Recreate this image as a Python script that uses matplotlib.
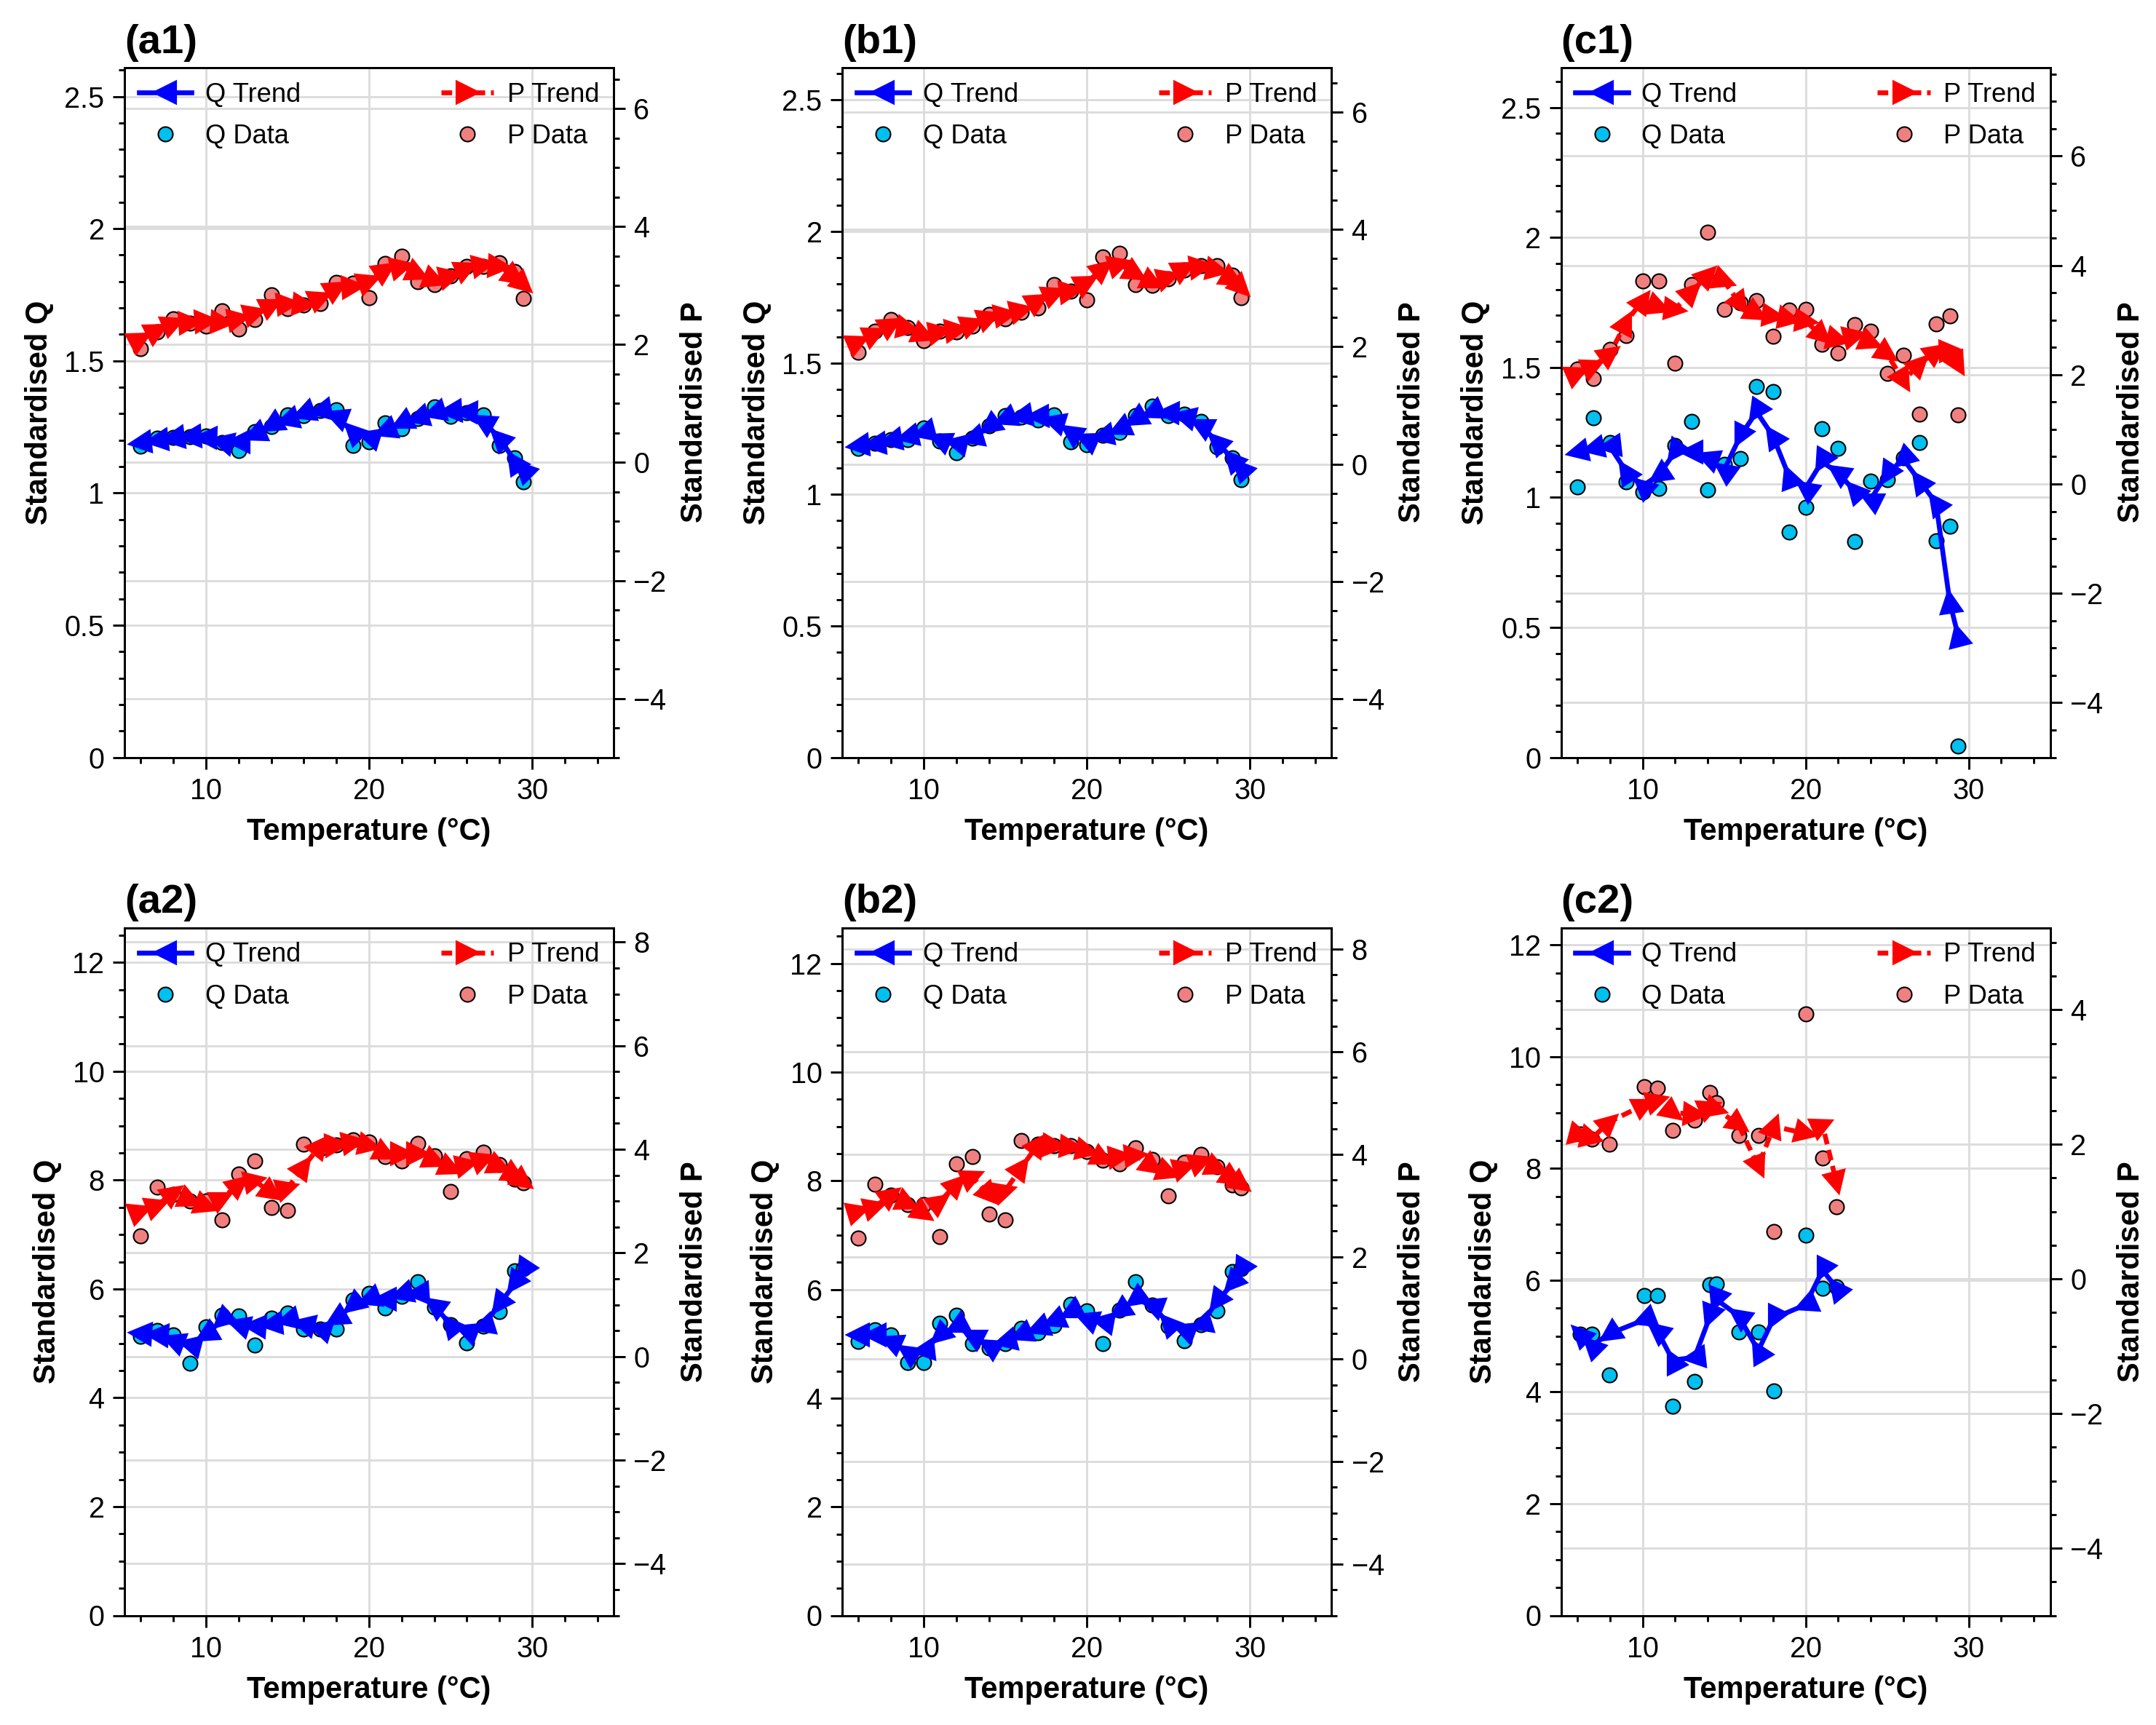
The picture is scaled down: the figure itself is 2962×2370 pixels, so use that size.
import numpy as np
import matplotlib
matplotlib.use('Agg')
import matplotlib.pyplot as plt
from matplotlib.lines import Line2D
from matplotlib.markers import MarkerStyle
from matplotlib.transforms import Affine2D
from matplotlib.ticker import MultipleLocator, FuncFormatter

plt.rcParams['font.family'] = ['Liberation Sans', 'DejaVu Sans']

# temperatures (deg C)
temp = np.array([6, 7, 8, 9, 10, 11, 12, 13, 14, 15, 16, 17, 18, 19, 20,
                 21, 22, 23, 24, 25, 26, 27, 28, 28.95, 29.45])
temp_c1 = np.array([6, 7, 8, 9, 10, 11, 12, 13, 14, 15, 16, 17, 18, 19, 20,
                    21, 22, 23, 24, 25, 26, 27, 28, 28.85, 29.35])
temp_c2 = np.array([6.2, 6.9, 7.95, 10.1, 10.9, 11.85, 13.2, 14.15, 14.55,
                    15.9, 17.1, 18.05, 20.0, 21.05, 21.9])

# (a1)
q_a1 = [1.176, 1.208, 1.210, 1.212, 1.217, 1.190, 1.162, 1.231, 1.252, 1.295, 1.293, 1.313, 1.315,
        1.180, 1.194, 1.265, 1.244, 1.281, 1.327, 1.290, 1.304, 1.295, 1.180, 1.134, 1.043]
qt_a1 = [1.191, 1.199, 1.208, 1.212, 1.210, 1.194, 1.194, 1.222, 1.256, 1.277, 1.300, 1.313, 1.290,
         1.231, 1.212, 1.235, 1.265, 1.286, 1.304, 1.309, 1.307, 1.272, 1.208, 1.120, 1.088]
p_a1 = [1.93, 2.22, 2.44, 2.36, 2.31, 2.57, 2.27, 2.43, 2.85, 2.61, 2.67, 2.70, 3.05,
        3.04, 2.80, 3.38, 3.50, 3.07, 3.02, 3.16, 3.32, 3.33, 3.39, 3.24, 2.78]
pt_a1 = [2.09, 2.24, 2.36, 2.38, 2.40, 2.38, 2.44, 2.53, 2.67, 2.70, 2.67, 2.79, 2.96,
         2.98, 3.08, 3.26, 3.33, 3.20, 3.09, 3.16, 3.29, 3.35, 3.33, 3.14, 3.02]

# (b1)
q_b1 = [1.174, 1.194, 1.208, 1.208, 1.252, 1.203, 1.159, 1.214, 1.261, 1.300, 1.294, 1.282, 1.303,
        1.201, 1.189, 1.226, 1.236, 1.300, 1.337, 1.300, 1.305, 1.277, 1.180, 1.140, 1.057]
qt_b1 = [1.185, 1.192, 1.205, 1.219, 1.236, 1.208, 1.194, 1.213, 1.259, 1.286, 1.296, 1.298, 1.277,
         1.236, 1.208, 1.222, 1.251, 1.286, 1.314, 1.312, 1.296, 1.263, 1.199, 1.134, 1.100]
p_b1 = [1.90, 2.26, 2.46, 2.33, 2.10, 2.26, 2.25, 2.35, 2.55, 2.48, 2.59, 2.66, 3.06,
        2.95, 2.80, 3.53, 3.59, 3.06, 3.04, 3.16, 3.31, 3.38, 3.38, 3.22, 2.83]
pt_b1 = [2.08, 2.21, 2.37, 2.31, 2.19, 2.25, 2.29, 2.39, 2.50, 2.55, 2.62, 2.79, 2.91,
         2.95, 3.10, 3.33, 3.41, 3.24, 3.10, 3.18, 3.33, 3.37, 3.31, 3.15, 3.01]

# (c1)
q_c1 = [1.039, 1.306, 1.212, 1.061, 1.022, 1.036, 1.200, 1.292, 1.028, 1.128, 1.150, 1.427, 1.408,
        0.868, 0.962, 1.264, 1.189, 0.829, 1.064, 1.067, 1.153, 1.212, 0.834, 0.890, 0.043]
qt_c1 = [1.175, 1.189, 1.196, 1.100, 1.044, 1.086, 1.175, 1.175, 1.151, 1.105, 1.236, 1.329, 1.236,
         1.079, 1.035, 1.137, 1.095, 1.025, 0.993, 1.091, 1.147, 1.063, 0.979, 0.597, 0.470]
p_c1 = [2.11, 1.93, 2.46, 2.72, 3.71, 3.72, 2.21, 3.65, 4.60, 3.20, 3.31, 3.35, 2.70,
        3.18, 3.20, 2.55, 2.40, 2.92, 2.79, 2.02, 2.35, 1.28, 2.93, 3.07, 1.27]
pt_c1 = [2.02, 2.16, 2.38, 2.96, 3.36, 3.24, 3.20, 3.51, 3.82, 3.71, 3.29, 3.12, 3.08,
         3.02, 2.98, 2.71, 2.64, 2.71, 2.58, 2.38, 1.89, 2.20, 2.42, 2.43, 2.18]

# (a2)
q_a2 = [5.13, 5.23, 5.16, 4.64, 5.30, 5.52, 5.51, 4.97, 5.46, 5.56, 5.27, 5.26, 5.27,
        5.80, 5.92, 5.65, 5.86, 6.13, 5.67, 5.34, 5.01, 5.32, 5.59, 6.33, 6.37]
qt_a2 = [5.18, 5.16, 5.05, 4.98, 5.16, 5.43, 5.34, 5.32, 5.36, 5.43, 5.36, 5.27, 5.45,
         5.70, 5.81, 5.81, 5.90, 5.92, 5.70, 5.34, 5.23, 5.32, 5.72, 6.10, 6.34]
p_a2 = [2.33, 3.27, 3.13, 3.00, 3.00, 2.64, 3.53, 3.78, 2.88, 2.82, 4.10, 4.02, 4.09,
        4.19, 4.14, 3.86, 3.78, 4.12, 3.88, 3.19, 3.82, 3.95, 3.70, 3.42, 3.35]
pt_a2 = [2.81, 2.92, 3.16, 3.02, 2.90, 3.06, 3.32, 3.39, 3.16, 3.25, 3.67, 4.07, 4.09,
         4.14, 4.07, 3.91, 3.91, 3.91, 3.77, 3.63, 3.70, 3.81, 3.67, 3.49, 3.38]

# (b2)
q_b2 = [5.04, 5.26, 5.17, 4.65, 4.65, 5.38, 5.52, 5.00, 4.92, 5.00, 5.29, 5.21, 5.34,
        5.73, 5.61, 5.00, 5.62, 6.14, 5.71, 5.33, 5.06, 5.35, 5.61, 6.33, 6.38]
qt_b2 = [5.17, 5.17, 5.04, 4.84, 4.88, 5.15, 5.31, 5.15, 4.97, 5.04, 5.17, 5.29, 5.42,
         5.58, 5.46, 5.40, 5.60, 5.82, 5.71, 5.38, 5.26, 5.35, 5.78, 6.11, 6.36]
p_b2 = [2.37, 3.41, 3.20, 3.02, 3.02, 2.39, 3.81, 3.95, 2.83, 2.72, 4.27, 4.19, 4.16,
        4.17, 4.06, 3.88, 3.81, 4.12, 3.89, 3.19, 3.84, 4.00, 3.75, 3.40, 3.34]
pt_b2 = [2.89, 2.98, 3.20, 3.05, 2.84, 3.08, 3.41, 3.55, 3.20, 3.29, 3.74, 4.19, 4.17,
         4.14, 4.07, 3.91, 3.95, 3.98, 3.76, 3.64, 3.74, 3.86, 3.72, 3.53, 3.41]

# (c2)
q_c2 = [5.04, 5.04, 4.30, 5.73, 5.73, 3.75, 4.19, 5.92, 5.94, 5.08, 5.07, 4.02, 6.81, 5.85, 5.88]
qt_c2 = [5.04, 4.83, 5.04, 5.29, 5.10, 4.57, 4.62, 5.36, 5.65, 5.36, 4.74, 5.32, 5.56, 6.18, 5.86]
p_c2 = [2.15, 2.08, 2.00, 2.86, 2.84, 2.21, 2.36, 2.77, 2.62, 2.13, 2.13, 0.71, 3.94, 1.80, 1.07]
pt_c2 = [2.13, 2.09, 2.33, 2.59, 2.65, 2.47, 2.45, 2.55, 2.52, 2.29, 1.67, 2.27, 2.16, 2.28, 1.43]

Q_COL = '#00C0F0'
P_COL = '#F08080'
GRID = '#dcdcdc'
LW = 1.6
MS = 6.6
P_DASH = (0, (2.2, 1.2))

fmt = FuncFormatter(lambda v, pos: f'{v:g}'.replace('-', '\u2212'))


def trend(ax, x, y, color, ls, base):
    # line with triangle markers turned along the incoming segment
    ax.plot(x, y, color=color, lw=LW, ls=ls, zorder=3)
    pts = ax.transData.transform(np.column_stack([x, y]))
    d = np.diff(pts, axis=0)
    ang = np.degrees(np.arctan2(d[:, 1], d[:, 0]))
    ang = np.concatenate([[ang[0]], ang])
    for xi, yi, a in zip(x, y, ang):
        m = MarkerStyle(base, transform=Affine2D().rotate_deg(a))
        ax.plot([xi], [yi], ls='none', marker=m, ms=MS, color=color,
                mec=color, zorder=3)


def panel(rect, title, x, q, qt, p, pt, qlim, plim, qmaj, qmin):
    ax = fig.add_axes(rect)
    ax2 = ax.twinx()
    ax.set_xlim(5, 35)
    ax.set_ylim(*qlim)
    ax2.set_ylim(*plim)

    # grid lines of both y axes, drawn under all data
    ax.grid(False)
    ax2.grid(False)
    for xv in np.arange(10, 31, 10):
        ax.axvline(xv, color=GRID, lw=0.7, zorder=0.5)
    for qv in np.arange(0, qlim[1] + 1e-9, qmaj):
        ax.axhline(qv, color=GRID, lw=0.7, zorder=0.5)
    for pv in np.arange(-4, plim[1] + 1e-9, 2):
        qv = qlim[0] + (pv - plim[0]) * (qlim[1] - qlim[0]) / (plim[1] - plim[0])
        ax.axhline(qv, color=GRID, lw=0.7, zorder=0.5)

    ax.scatter(x, q, s=23, color=Q_COL, edgecolor='black', linewidth=0.5, zorder=2)
    trend(ax, x, qt, 'blue', '-', '<')
    ax2.scatter(x, p, s=23, color=P_COL, edgecolor='black', linewidth=0.5, zorder=2)
    trend(ax2, x, pt, 'red', P_DASH, '>')

    ax.xaxis.set_major_locator(MultipleLocator(10))
    ax.xaxis.set_minor_locator(MultipleLocator(2))
    ax.yaxis.set_major_locator(MultipleLocator(qmaj))
    ax.yaxis.set_minor_locator(MultipleLocator(qmin))
    ax2.yaxis.set_major_locator(MultipleLocator(2))
    ax2.yaxis.set_minor_locator(MultipleLocator(0.5))
    ax.yaxis.set_major_formatter(fmt)
    ax2.yaxis.set_major_formatter(fmt)
    ax.xaxis.set_major_formatter(fmt)

    for a in (ax, ax2):
        a.tick_params(which='major', length=3.8, width=0.7, labelsize=9.5, pad=2.8)
        a.tick_params(which='minor', length=1.9, width=0.7)
        for s in a.spines.values():
            s.set_linewidth(0.7)
    ax.tick_params(which='both', top=False, right=False)
    ax2.tick_params(which='both', left=False, top=False, bottom=False)

    ax.set_xlabel('Temperature (°C)', fontsize=10, fontweight='bold', labelpad=4)
    ax.set_ylabel('Standardised Q', fontsize=10, fontweight='bold', labelpad=3.5)
    ax2.set_ylabel('Standardised P', fontsize=10, fontweight='bold', labelpad=4.5)
    ax.set_title(title, loc='left', fontsize=13.5, fontweight='bold', pad=4.8)

    handles = [
        Line2D([], [], color='blue', lw=LW, marker='<', ms=MS),
        Line2D([], [], ls='none', marker='o', ms=4.8, mfc=Q_COL, mec='black', mew=0.5),
        Line2D([], [], color='red', lw=LW, ls=P_DASH, marker='>', ms=MS),
        Line2D([], [], ls='none', marker='o', ms=4.8, mfc=P_COL, mec='black', mew=0.5),
    ]
    labels = ['Q Trend', 'Q Data', 'P Trend', 'P Data']
    ax2.legend(handles, labels, ncol=2, loc='upper left', bbox_to_anchor=(0, 0, 1, 1),
               mode='expand', frameon=False, fontsize=8.7, borderaxespad=0,
               borderpad=0.55, handlelength=2.0, handletextpad=0.5,
               labelspacing=0.62, numpoints=1)
    return ax, ax2


fig = plt.figure(figsize=(2962 / 300, 2370 / 300), dpi=300)

W = 672 / 2962
H1 = 948 / 2370
H2 = 945 / 2370
lefts = [171 / 2962, 1157 / 2962, 2144.5 / 2962]
b1 = 1 - 1040.6 / 2370
b2 = 1 - 2219.5 / 2370

panel([lefts[0], b1, W, H1], '(a1)', temp, q_a1, qt_a1, p_a1, pt_a1,
      (0, 2.61), (-5, 6.70), 0.5, 0.1)
panel([lefts[1], b1, W, H1], '(b1)', temp, q_b1, qt_b1, p_b1, pt_b1,
      (0, 2.624), (-5, 6.76), 0.5, 0.1)
panel([lefts[2], b1, W, H1], '(c1)', temp_c1, q_c1, qt_c1, p_c1, pt_c1,
      (0, 2.654), (-5, 7.62), 0.5, 0.1)
panel([lefts[0], b2, W, H2], '(a2)', temp, q_a2, qt_a2, p_a2, pt_a2,
      (0, 12.64), (-5, 8.28), 2, 0.5)
panel([lefts[1], b2, W, H2], '(b2)', temp, q_b2, qt_b2, p_b2, pt_b2,
      (0, 12.66), (-5, 8.42), 2, 0.5)
panel([lefts[2], b2, W, H2], '(c2)', temp_c2, q_c2, qt_c2, p_c2, pt_c2,
      (0, 12.31), (-5, 5.22), 2, 0.5)

fig.savefig('out.png', dpi=300)
